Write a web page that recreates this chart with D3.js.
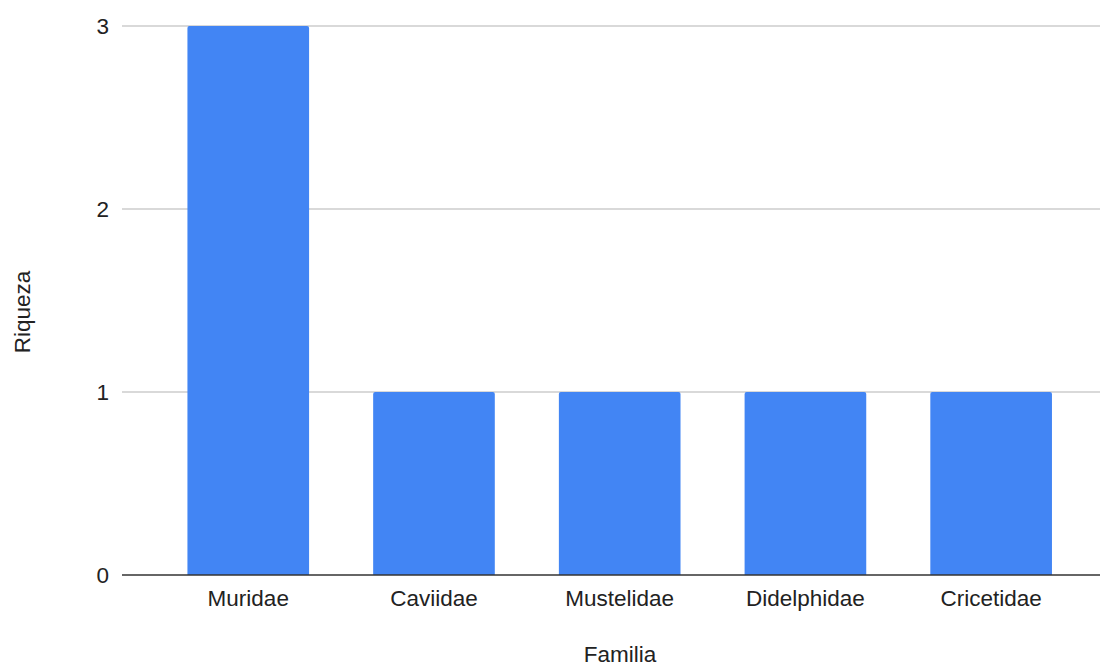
<!DOCTYPE html>
<html>
<head>
<meta charset="utf-8">
<script src="https://cdn.jsdelivr.net/npm/d3@7"></script>
<style>
html,body{margin:0;padding:0;background:#fff;}
svg{display:block;font-family:"Liberation Sans",Arial,sans-serif;}
</style>
</head>
<body>
<svg id="chart" width="1103" height="666"></svg>
<script>
const categories = ["Muridae","Caviidae","Mustelidae","Didelphidae","Cricetidae"];
const values = [3,1,1,1,1];
const yTicks = [0,1,2,3];
const xTitle = "Familia";
const yTitle = "Riqueza";

const svg = d3.select("#chart");
const plotLeft = 122, plotRight = 1100, plotTop = 26, plotBottom = 575;

const x = d3.scaleBand().domain(categories).range([155.4, 1084])
  .paddingInner(0.345).paddingOuter(0.1725);
const y = d3.scaleLinear().domain([0,3]).range([plotBottom, plotTop]);

// gridlines
svg.append("g").selectAll("line").data(yTicks.filter(d=>d>0)).join("line")
  .attr("x1", plotLeft).attr("x2", plotRight)
  .attr("y1", d=>y(d)).attr("y2", d=>y(d))
  .attr("stroke","#cccccc").attr("stroke-width",1.5);

// y tick labels
svg.append("g").selectAll("text").data(yTicks).join("text")
  .attr("x", 109).attr("y", d=>y(d)).attr("dy","0.36em")
  .attr("text-anchor","end").attr("font-size",22.5).attr("fill","#222")
  .text(d=>d);

// bars
svg.append("g").selectAll("path").data(categories).join("path")
  .attr("fill","#4285f4")
  .attr("d",(c,i)=>{
    const x0 = x(c), w = x.bandwidth(), y0 = y(values[i]), y1 = y(0), r = 2;
    return `M${x0},${y1}V${y0+r}Q${x0},${y0} ${x0+r},${y0}H${x0+w-r}Q${x0+w},${y0} ${x0+w},${y0+r}V${y1}Z`;
  });

// baseline
svg.append("line").attr("x1",plotLeft).attr("x2",plotRight)
  .attr("y1",y(0)).attr("y2",y(0)).attr("stroke","#333").attr("stroke-width",1.5);

// x tick labels
svg.append("g").selectAll("text").data(categories).join("text")
  .attr("x", c=>x(c)+x.bandwidth()/2).attr("y", 597.5).attr("dy","0.36em")
  .attr("text-anchor","middle").attr("font-size",22.5).attr("fill","#222")
  .text(c=>c);

// axis titles
svg.append("text").attr("x",620).attr("y",654).attr("dy","0.36em")
  .attr("text-anchor","middle").attr("font-size",22.5).attr("fill","#222").text(xTitle);
svg.append("text").attr("transform","translate(22,312) rotate(-90)").attr("dy","0.36em")
  .attr("text-anchor","middle").attr("font-size",22.5).attr("fill","#222").text(yTitle);
</script>
</body>
</html>
